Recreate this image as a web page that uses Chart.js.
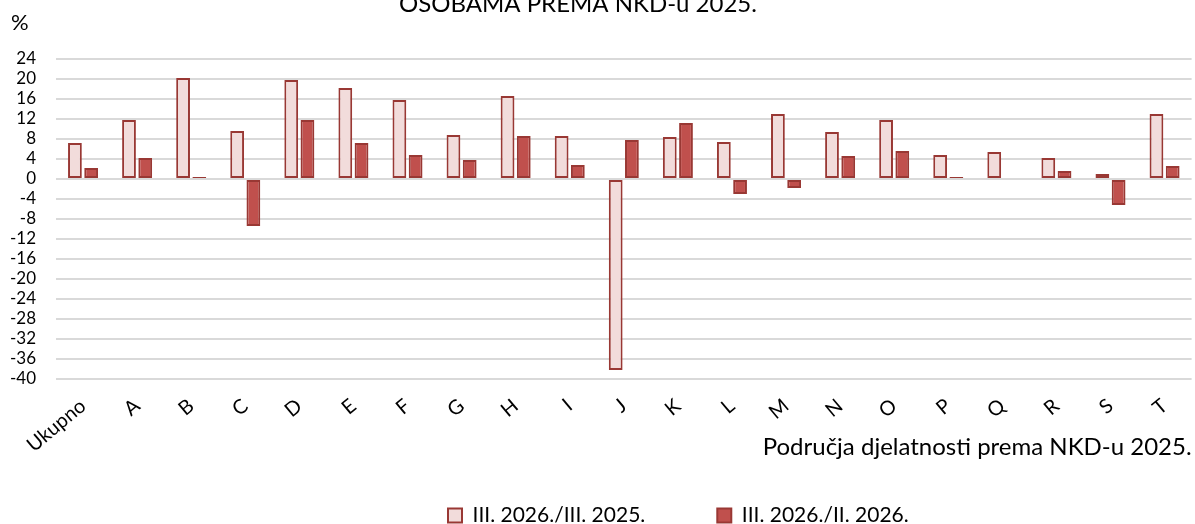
<!DOCTYPE html>
<html>
<head>
<meta charset="utf-8">
<script src="https://cdn.jsdelivr.net/npm/chart.js@4.4.1/dist/chart.umd.min.js"></script>
<style>
    html, body { margin: 0; padding: 0; background: #ffffff; }
    #indexChart { display: block; }
</style>
</head>
<body>
<canvas id="indexChart" width="1195" height="524"></canvas>
<script>
// Data
const categories = ['Ukupno', 'A', 'B', 'C', 'D', 'E', 'F', 'G', 'H', 'I', 'J',
                    'K', 'L', 'M', 'N', 'O', 'P', 'Q', 'R', 'S', 'T'];
const yearOnYear = [7.2, 11.8, 20.2, 9.6, 19.8, 18.2, 15.8, 8.8, 16.6, 8.6, -38.2,
                    8.4, 7.4, 13.0, 9.4, 11.8, 4.8, 5.4, 4.2, 1.0, 13.0];
const monthOnMonth = [2.2, 4.2, 0.4, -9.4, 11.8, 7.2, 4.8, 3.8, 8.6, 2.8, 7.8,
                      11.2, -3.0, -1.8, 4.6, 5.6, 0.4, 0.2, 1.6, -5.2, 2.6];
const seriesLabels = ['III. 2026./III. 2025.', 'III. 2026./II. 2026.'];
const yMin = -40;
const yMax = 24;
const yStep = 4;
const chartTitle = 'OSOBAMA PREMA NKD-u 2025.';
const xAxisTitle = 'Područja djelatnosti prema NKD-u 2025.';
const unitLabel = '%';

document.addEventListener('DOMContentLoaded', function() {
    const fontFamily = 'Lato, "Open Sans", sans-serif';
    const colors = {
        lightFill: '#f2dcdb',
        darkFill: '#c0504d',
        border: '#993834',
        grid: '#d9d9d9',
        text: '#000000'
    };

    // Title line (cut at the top edge), the unit mark, and legend placement
    const extraText = {
        id: 'extraText',
        afterLayout(chart) {
            const legend = chart.legend;
            const pad = legend.options.labels.padding;
            const startX = (legend.left + pad + legend.right - legend.lineWidths[0]) / 2;
            const dx = 448 - startX;
            legend.left += dx;
            legend.right += dx;
            // wide item spacing comes with a tall box; pull the row back up
            legend.top -= 51;
        },
        afterDraw(chart) {
            const ctx = chart.ctx;
            ctx.save();
            ctx.fillStyle = colors.text;
            ctx.textBaseline = 'alphabetic';
            ctx.font = '24px ' + fontFamily;
            ctx.textAlign = 'center';
            ctx.fillText(chartTitle, 578, 12);
            ctx.font = '22px ' + fontFamily;
            ctx.textAlign = 'left';
            ctx.fillText(unitLabel, 11, 30);
            ctx.restore();
        }
    };

    const ctx = document.getElementById('indexChart');
    new Chart(ctx, {
        type: 'bar',
        data: {
            labels: categories,
            datasets: [{
                label: seriesLabels[0],
                data: yearOnYear,
                backgroundColor: colors.lightFill,
                borderColor: colors.border,
                borderWidth: 2,
                borderSkipped: false,
                categoryPercentage: 0.6,
                barPercentage: 0.85
            }, {
                label: seriesLabels[1],
                data: monthOnMonth,
                backgroundColor: colors.darkFill,
                borderColor: colors.border,
                borderWidth: 2,
                borderSkipped: false,
                categoryPercentage: 0.6,
                barPercentage: 0.85
            }]
        },
        options: {
            responsive: false,
            animation: false,
            devicePixelRatio: 1,
            layout: {
                padding: { top: 59, left: 0, right: 0, bottom: 0 }
            },
            plugins: {
                legend: {
                    display: true,
                    position: 'bottom',
                    maxHeight: 40,
                    labels: {
                        color: colors.text,
                        font: { family: fontFamily, size: 21 },
                        boxWidth: 14,
                        boxHeight: 14,
                        padding: 72
                    }
                },
                tooltip: { enabled: false }
            },
            scales: {
                y: {
                    min: yMin,
                    max: yMax,
                    afterFit: function(axis) { axis.width = 56; },
                    border: { display: false },
                    grid: { color: colors.grid, lineWidth: 2, drawTicks: false },
                    ticks: {
                        stepSize: yStep,
                        maxTicksLimit: 20,
                        autoSkip: false,
                        color: colors.text,
                        padding: 20,
                        font: { family: fontFamily, size: 17 }
                    }
                },
                x: {
                    afterFit: function(axis) { axis.height = 105; },
                    border: { display: false },
                    grid: { display: false, drawTicks: false },
                    ticks: {
                        color: colors.text,
                        autoSkip: false,
                        minRotation: 40,
                        maxRotation: 40,
                        padding: 15,
                        font: { family: fontFamily, size: 20 }
                    },
                    title: {
                        display: true,
                        text: xAxisTitle,
                        align: 'end',
                        color: colors.text,
                        font: { family: fontFamily, size: 24 },
                        padding: { top: 0, bottom: 22 }
                    }
                }
            }
        },
        plugins: [extraText]
    });
});
</script>
</body>
</html>
